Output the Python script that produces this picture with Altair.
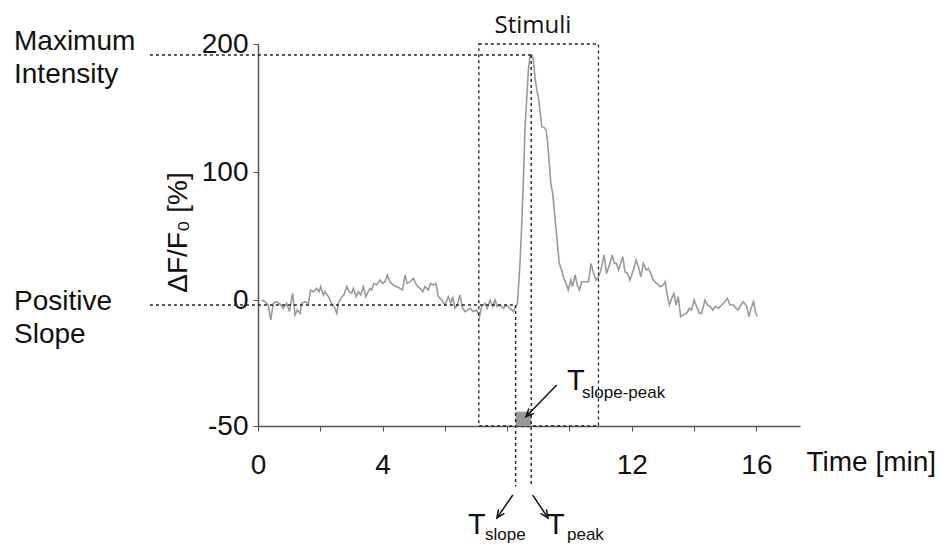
import altair as alt
import pandas as pd

# ---- trace: time [min] and dF/F0 [%] ----
time_min = [
    0.12, 0.22, 0.33, 0.41, 0.49, 0.60, 0.71, 0.81, 0.92, 1.01, 1.11, 1.19, 1.26, 1.35, 1.40,
    1.51, 1.62, 1.69, 1.78, 1.88, 1.96, 2.01, 2.10, 2.15, 2.26, 2.36, 2.47, 2.53, 2.58, 2.69,
    2.76, 2.85, 2.93, 3.01, 3.06, 3.15, 3.22, 3.30, 3.38, 3.46, 3.54, 3.60, 3.65, 3.72, 3.81,
    3.92, 4.00, 4.08, 4.15, 4.24, 4.34, 4.45, 4.56, 4.64, 4.72, 4.79, 4.88, 4.99, 5.09, 5.20,
    5.29, 5.36, 5.47, 5.54, 5.63, 5.71, 5.79, 5.90, 6.00, 6.11, 6.19, 6.25, 6.32, 6.40, 6.48,
    6.57, 6.65, 6.72, 6.81, 6.91, 7.02, 7.11, 7.18, 7.29, 7.36, 7.45, 7.53, 7.61, 7.68, 7.77,
    7.88, 7.98, 8.09, 8.20, 8.27, 8.33, 8.41, 8.46, 8.52, 8.57, 8.63, 8.68, 8.73, 8.79, 8.84,
    8.89, 8.95, 9.00, 9.05, 9.11, 9.18, 9.25, 9.29, 9.35, 9.40, 9.46, 9.51, 9.57, 9.62, 9.67,
    9.75, 9.80, 9.89, 9.96, 10.04, 10.10, 10.18, 10.25, 10.32, 10.39, 10.50, 10.61, 10.69, 10.76, 10.85,
    10.93, 11.01, 11.11, 11.19, 11.30, 11.37, 11.44, 11.51, 11.58, 11.64, 11.71, 11.78, 11.86, 11.94, 12.05,
    12.14, 12.21, 12.29, 12.37, 12.46, 12.53, 12.61, 12.69, 12.80, 12.91, 13.01, 13.07, 13.14, 13.21, 13.28,
    13.35, 13.42, 13.49, 13.57, 13.66, 13.76, 13.85, 13.92, 14.00, 14.08, 14.17, 14.24, 14.35, 14.43, 14.51,
    14.60, 14.68, 14.78, 14.89, 14.99, 15.07, 15.15, 15.26, 15.35, 15.42, 15.50, 15.58, 15.69, 15.76, 15.83,
    15.91, 15.96, 16.02,
]
dff0 = [
    0.0, -0.7, -2.0, -7.9, -1.3, -0.7, -1.6, -3.3, -1.3, -4.6, 5.2, -5.9, -4.0, -5.3, -1.3,
    -0.7, -1.3, 7.8, 6.5, 9.1, 6.5, 10.4, 3.9, 6.5, 2.6, -1.3, -3.3, -5.3, -1.3, 2.6,
    3.9, 10.4, 6.5, 5.2, 9.1, 2.6, 6.5, 3.9, 10.4, 2.6, 6.5, 9.1, 7.8, 13.0, 11.7,
    15.6, 13.0, 14.3, 19.5, 14.3, 11.7, 10.4, 9.1, 7.8, 19.5, 13.0, 14.3, 16.9, 11.7, 9.1,
    6.5, 10.4, 7.8, 13.0, 11.7, 13.0, 2.6, 0.0, -2.0, 2.6, -1.3, 2.6, -3.3, -2.0, 3.9,
    -3.3, -4.6, -4.0, -3.3, -4.6, -4.0, -6.6, -2.6, -1.3, -3.3, 0.0, -2.6, 0.0, -2.6, -2.0,
    -3.3, -2.0, -3.3, -4.6, -2.6, -1.3, 28.6, 54.7, 93.8, 132.8, 158.9, 179.7, 190.1, 191.4, 187.5,
    174.5, 164.1, 158.9, 148.4, 135.4, 134.9, 132.8, 125.0, 106.8, 91.1, 83.3, 70.3, 54.7, 41.7, 28.6,
    23.4, 18.2, 13.0, 7.8, 15.6, 10.4, 19.5, 11.7, 7.8, 14.3, 14.3, 14.3, 28.6, 22.1, 15.6,
    18.2, 23.4, 35.2, 20.8, 28.6, 35.2, 28.6, 28.6, 23.4, 28.6, 33.9, 22.1, 20.8, 15.6, 23.4,
    31.3, 26.0, 18.2, 28.6, 23.4, 24.7, 20.8, 15.6, 13.0, 10.4, 11.7, 14.3, 3.9, -2.0, 1.3,
    5.2, -2.0, 2.6, -6.6, -5.9, -5.3, -3.3, -4.0, 0.0, -2.6, -5.3, -5.3, 0.0, -2.0, -2.4,
    -4.0, -2.6, -3.3, -2.0, -0.7, 1.3, -2.0, -2.0, -3.3, -4.0, -2.0, -0.7, -2.6, -6.6, -3.3,
    -0.7, -4.0, -6.6,
]

# ---- annotation values (data units) ----
stim_start, stim_end, stim_top = 7.09, 10.93, 200
t_slope, t_peak = 8.27, 8.77
peak_value = 191.4
slope_level = -2.0
axis_bottom = -50
below_axis = -74
left_start = -3.47
shaded_top = -44.3

x_ticks = [0, 2, 4, 6, 8, 10, 12, 14, 16]
x_labels_shown = [0, 4, 12, 16]
y_ticks = [-50, 0, 100, 200]

FONT = "Liberation Sans"
DOT = [3, 3]
INK = "#222222"

trace = pd.DataFrame({"t": time_min, "v": dff0})

x_scale = alt.Scale(domain=[0, 17.4], nice=False, zero=False)
y_scale = alt.Scale(domain=[-50, 0, 200], range=[382, 256, 0], nice=False, zero=False)

x_axis = alt.Axis(
    values=x_ticks,
    labelExpr="indexof(%s, datum.value) >= 0 ? datum.label : ''" % str(x_labels_shown),
    grid=False, tickSize=5, labelPadding=20, labelFontSize=28, labelFont=FONT,
    labelColor="#111111", domainColor="#555555", tickColor="#555555", domainWidth=1.5,
    labelFlush=False, labelOverlap=False,
    title="Time [min]", titleFont=FONT, titleFontSize=28, titleFontWeight="normal",
    titleColor="#111111", titleX=548, titleY=36, titleAlign="left", titleBaseline="middle",
)
y_axis = alt.Axis(
    values=y_ticks, labelExpr="'' + datum.value",
    grid=False, tickSize=5, labelPadding=5, labelFontSize=28,
    labelFont=FONT, labelColor="#111111", domainColor="#555555", tickColor="#555555",
    domainWidth=1.5, labelFlush=False, labelOverlap=False,
    title="ΔF/F₀ [%]", titleFont=FONT, titleFontSize=28, titleFontWeight="normal",
    titleColor="#111111", titleX=-80, titleY=188, titleAngle=270,
    titleAlign="center", titleBaseline="middle",
)


def xy(xf, yf):
    return dict(
        x=alt.X(xf, scale=x_scale, axis=x_axis),
        y=alt.Y(yf, scale=y_scale, axis=y_axis),
    )


line = alt.Chart(trace).mark_line(color="#9a9a9a", strokeWidth=1.6).encode(
    **xy("t:Q", "v:Q")
)

box = alt.Chart(pd.DataFrame({
    "x": [stim_start], "x2": [stim_end], "y": [stim_top], "y2": [axis_bottom]
})).mark_rect(fill="transparent", stroke=INK, strokeWidth=1.3, strokeDash=DOT).encode(
    x2="x2:Q", y2="y2:Q", **xy("x:Q", "y:Q")
)

shade = alt.Chart(pd.DataFrame({
    "x": [t_slope], "x2": [t_peak], "y": [shaded_top], "y2": [axis_bottom]
})).mark_rect(color="#9a9a9a").encode(
    x2="x2:Q", y2="y2:Q", **xy("x:Q", "y:Q")
)

guides = alt.Chart(pd.DataFrame({
    "x":  [left_start, left_start, t_slope, t_peak],
    "x2": [t_peak, t_slope, t_slope, t_peak],
    "y":  [peak_value, slope_level, slope_level, peak_value],
    "y2": [peak_value, slope_level, below_axis, below_axis],
})).mark_rule(color=INK, strokeWidth=1.4, strokeDash=DOT).encode(
    x2="x2:Q", y2="y2:Q", **xy("x:Q", "y:Q")
)

arrows_df = pd.DataFrame({
    "x":  [9.59, 8.18, 8.82],
    "y":  [-33.7, -77.4, -77.4],
    "x2": [8.60, 7.67, 9.31],
    "y2": [-46.3, -86.5, -86.5],
    "ang": [224, 214, 146],
})
arrow_lines = alt.Chart(arrows_df).mark_rule(color="#111111", strokeWidth=1.5).encode(
    x2="x2:Q", y2="y2:Q", **xy("x:Q", "y:Q")
)
arrow_heads = alt.Chart(arrows_df).mark_point(
    shape="M-0.8,1.8L0,0L0.8,1.8", filled=False, stroke="#111111",
    strokeWidth=1.5, size=80, opacity=1,
).encode(
    angle=alt.Angle("ang:Q", scale=None), **xy("x2:Q", "y2:Q")
)

labels_df = pd.DataFrame({
    "label": ["Maximum", "Intensity", "Positive", "Slope",
              "T", "slope-peak", "T", "slope", "T", "peak"],
    "px": [-244, -244, -244, -244, 309, 324, 210, 227, 289, 309],
    "py": [6, 39, 266, 299, 346, 354, 490, 496, 490, 496],
    "fs": [28, 28, 28, 28, 29, 17, 29, 17, 29, 17],
})
labels = alt.Chart(labels_df).mark_text(
    font=FONT, align="left", baseline="alphabetic", color="#111111"
).encode(
    x=alt.X("px:Q", scale=None), y=alt.Y("py:Q", scale=None),
    text="label:N", size=alt.Size("fs:Q", scale=None),
)

stimuli = alt.Chart(pd.DataFrame({"label": ["Stimuli"], "px": [275], "py": [-11]})).mark_text(
    font="Open Sans", fontSize=24, align="center", baseline="alphabetic", color="#111111"
).encode(
    x=alt.X("px:Q", scale=None), y=alt.Y("py:Q", scale=None), text="label:N",
)

chart = alt.layer(
    line, box, shade, guides, arrow_lines, arrow_heads, labels, stimuli
).properties(
    width=542, height=382,
    padding={"left": 250, "top": 36, "right": 138, "bottom": 118},
    autosize=alt.AutoSizeParams(type="none"),
    background="white",
).configure_view(stroke=None)

chart.save("out.html", embed_options={"renderer": "svg", "actions": False})
